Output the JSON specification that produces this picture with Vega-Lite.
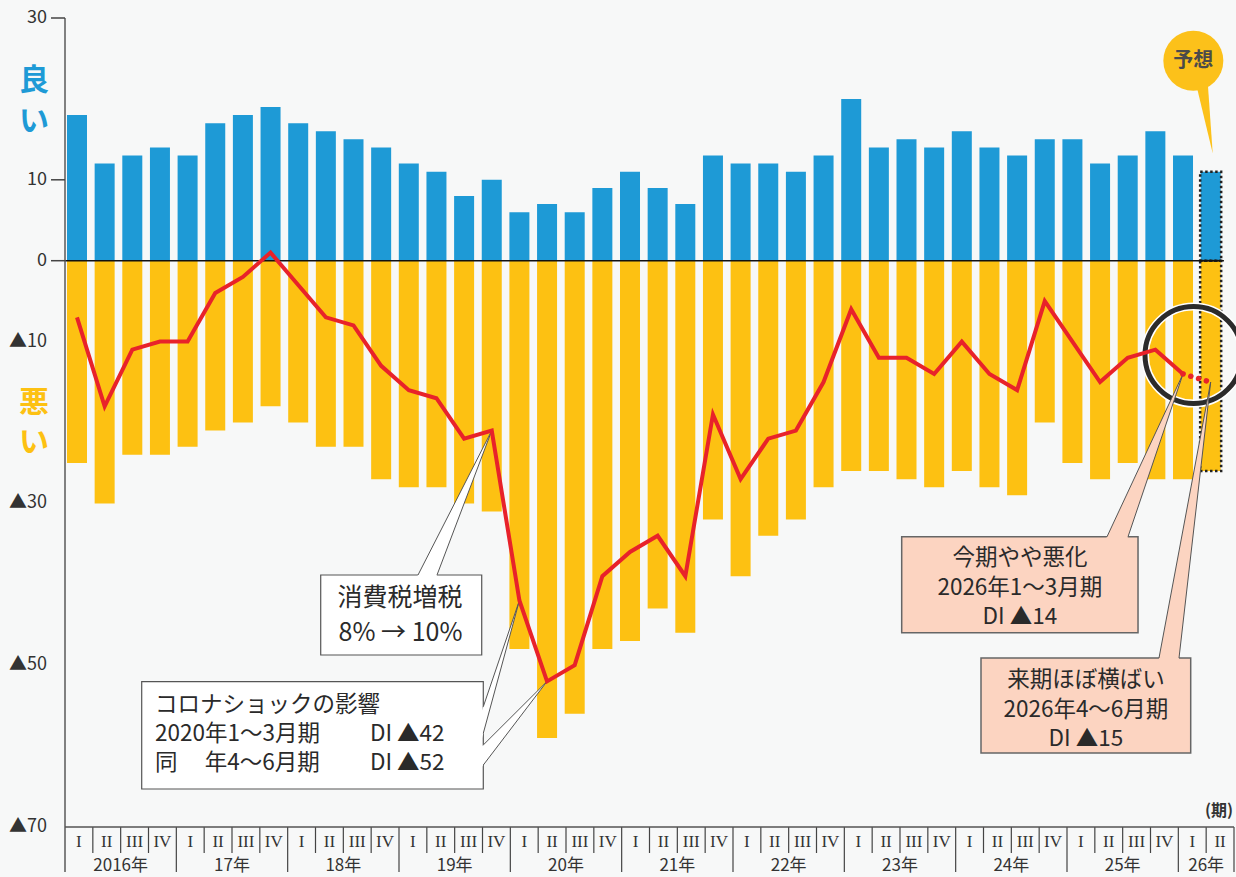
{
 "$schema": "https://vega.github.io/schema/vega-lite/v6.json",
 "width": 1169,
 "height": 859,
 "autosize": {"type": "none"},
 "padding": {"left": 65, "top": 18, "right": 2, "bottom": 0},
 "background": "#f7f8f8",
 "config": {"view": {"stroke": null}},
 "datasets": {
  "q": [
   {"q":0,"good":18,"bad":-25,"di":-7,"qr":"I"},
   {"q":1,"good":12,"bad":-30,"di":-18,"qr":"II"},
   {"q":2,"good":13,"bad":-24,"di":-11,"qr":"III"},
   {"q":3,"good":14,"bad":-24,"di":-10,"qr":"IV"},
   {"q":4,"good":13,"bad":-23,"di":-10,"qr":"I"},
   {"q":5,"good":17,"bad":-21,"di":-4,"qr":"II"},
   {"q":6,"good":18,"bad":-20,"di":-2,"qr":"III"},
   {"q":7,"good":19,"bad":-18,"di":1,"qr":"IV"},
   {"q":8,"good":17,"bad":-20,"di":-3,"qr":"I"},
   {"q":9,"good":16,"bad":-23,"di":-7,"qr":"II"},
   {"q":10,"good":15,"bad":-23,"di":-8,"qr":"III"},
   {"q":11,"good":14,"bad":-27,"di":-13,"qr":"IV"},
   {"q":12,"good":12,"bad":-28,"di":-16,"qr":"I"},
   {"q":13,"good":11,"bad":-28,"di":-17,"qr":"II"},
   {"q":14,"good":8,"bad":-30,"di":-22,"qr":"III"},
   {"q":15,"good":10,"bad":-31,"di":-21,"qr":"IV"},
   {"q":16,"good":6,"bad":-48,"di":-42,"qr":"I"},
   {"q":17,"good":7,"bad":-59,"di":-52,"qr":"II"},
   {"q":18,"good":6,"bad":-56,"di":-50,"qr":"III"},
   {"q":19,"good":9,"bad":-48,"di":-39,"qr":"IV"},
   {"q":20,"good":11,"bad":-47,"di":-36,"qr":"I"},
   {"q":21,"good":9,"bad":-43,"di":-34,"qr":"II"},
   {"q":22,"good":7,"bad":-46,"di":-39,"qr":"III"},
   {"q":23,"good":13,"bad":-32,"di":-19,"qr":"IV"},
   {"q":24,"good":12,"bad":-39,"di":-27,"qr":"I"},
   {"q":25,"good":12,"bad":-34,"di":-22,"qr":"II"},
   {"q":26,"good":11,"bad":-32,"di":-21,"qr":"III"},
   {"q":27,"good":13,"bad":-28,"di":-15,"qr":"IV"},
   {"q":28,"good":20,"bad":-26,"di":-6,"qr":"I"},
   {"q":29,"good":14,"bad":-26,"di":-12,"qr":"II"},
   {"q":30,"good":15,"bad":-27,"di":-12,"qr":"III"},
   {"q":31,"good":14,"bad":-28,"di":-14,"qr":"IV"},
   {"q":32,"good":16,"bad":-26,"di":-10,"qr":"I"},
   {"q":33,"good":14,"bad":-28,"di":-14,"qr":"II"},
   {"q":34,"good":13,"bad":-29,"di":-16,"qr":"III"},
   {"q":35,"good":15,"bad":-20,"di":-5,"qr":"IV"},
   {"q":36,"good":15,"bad":-25,"di":-10,"qr":"I"},
   {"q":37,"good":12,"bad":-27,"di":-15,"qr":"II"},
   {"q":38,"good":13,"bad":-25,"di":-12,"qr":"III"},
   {"q":39,"good":16,"bad":-27,"di":-11,"qr":"IV"},
   {"q":40,"good":13,"bad":-27,"di":-14,"qr":"I"},
   {"q":41,"good":11,"bad":-26,"di":-15,"qr":"II"}
  ],
  "years": [
   {"q":2,"label":"2016年"},{"q":6,"label":"17年"},{"q":10,"label":"18年"},{"q":14,"label":"19年"},
   {"q":18,"label":"20年"},{"q":22,"label":"21年"},{"q":26,"label":"22年"},{"q":30,"label":"23年"},
   {"q":34,"label":"24年"},{"q":38,"label":"25年"},{"q":41,"label":"26年"}
  ],
  "ticks": [{"v":30},{"v":10},{"v":0}],
  "ylab": [
   {"v":30,"t":"30"},{"v":10,"t":"10"},{"v":0,"t":"0"},
   {"v":-10,"t":"▲10"},{"v":-30,"t":"▲30"},{"v":-50,"t":"▲50"},{"v":-70,"t":"▲70"}
  ],
  "side": [
   {"t":"良","y":22.21,"s":"good"},{"t":"い","y":17.14,"s":"good"},
   {"t":"悪","y":-17.59,"s":"bad"},{"t":"い","y":-22.53,"s":"bad"}
  ],
  "boxes": [
   {"id":"b1","x":8.814,"x2":14.637,"y":-38.85,"y2":-48.74},
   {"id":"b2","x":2.340,"x2":14.694,"y":-52.04,"y2":-65.30},
   {"id":"b3","x":29.826,"x2":38.373,"y":-34.12,"y2":-45.98},
   {"id":"b4","x":32.694,"x2":40.278,"y":-49.11,"y2":-60.85}
  ],
  "wedges": [
   {"g":"w1","x":12.260,"y":-39.34,"y2":-39.34},
   {"g":"w1","x":12.966,"y":-34.64,"y2":-39.34},
   {"g":"w1","x":15,"y":-21,"y2":-21},
   {"g":"w2a","x":14.575,"y":-56.33,"y2":-59.91},
   {"g":"w2a","x":16,"y":-42,"y2":-42},
   {"g":"w2b","x":14.575,"y":-60.27,"y2":-62.87},
   {"g":"w2b","x":17,"y":-52,"y2":-52},
   {"g":"p3","x":37.196,"y":-34.52,"y2":-34.52},
   {"g":"p3","x":37.970,"y":-28.86,"y2":-34.52},
   {"g":"p3","x":40,"y":-14,"y2":-14},
   {"g":"p4","x":39.112,"y":-49.48,"y2":-49.48},
   {"g":"p4","x":39.843,"y":-36.13,"y2":-49.48},
   {"g":"p4","x":41,"y":-15,"y2":-15},
   {"g":"tail","x":40.420,"y":22.58,"y2":22.58},
   {"g":"tail","x":40.882,"y":22.58,"y2":16.0},
   {"g":"tail","x":41.074,"y":13.28,"y2":13.28}
  ],
  "edges": [
   {"x":12.333,"y":-38.85,"x2":15,"y2":-21},
   {"x":13.02,"y":-38.85,"x2":15,"y2":-21},
   {"x":14.694,"y":-55.13,"x2":16,"y2":-42},
   {"x":14.694,"y":-58.42,"x2":16,"y2":-42},
   {"x":14.694,"y":-59.86,"x2":17,"y2":-52},
   {"x":14.694,"y":-62.34,"x2":17,"y2":-52},
   {"x":37.251,"y":-34.12,"x2":40,"y2":-14},
   {"x":38.011,"y":-34.12,"x2":40,"y2":-14},
   {"x":39.132,"y":-49.11,"x2":41,"y2":-15},
   {"x":39.855,"y":-49.11,"x2":41,"y2":-15}
  ],
  "t1": [
   {"t":"消費税増税","x":11.68,"y":-41.69},
   {"t":"8% → 10%","x":11.7,"y":-46.02}
  ],
  "tc": [
   {"t":"今期やや悪化","x":34.10,"y":-36.75},
   {"t":"2026年1～3月期","x":34.10,"y":-40.46},
   {"t":"DI ▲14","x":34.10,"y":-44.04},
   {"t":"来期ほぼ横ばい","x":36.488,"y":-51.83},
   {"t":"2026年4～6月期","x":36.488,"y":-55.54},
   {"t":"DI ▲15","x":36.488,"y":-59.12}
  ],
  "tl": [
   {"t":"コロナショックの影響","x":2.821,"y":-54.92},
   {"t":"2020年1～3月期","x":2.821,"y":-58.50},
   {"t":"同","x":2.821,"y":-62.09},
   {"t":"年4～6月期","x":4.62,"y":-62.09},
   {"t":"DI ▲42","x":10.597,"y":-58.50},
   {"t":"DI ▲52","x":10.597,"y":-62.09}
  ]
 },
 "resolve": {"scale": {"x": "independent"}},
 "layer": [
  {
   "data": {"name": "q"},
   "mark": {"type": "bar", "width": 20, "color": "#1e9ad6"},
   "encoding": {
    "x": {"field": "q", "type": "quantitative", "scale": {"domain": [-0.434, 41.844], "nice": false, "zero": false, "padding": 0}, "axis": null},
    "y": {"field": "good", "type": "quantitative", "scale": {"domain": [-76.18, 30], "nice": false, "zero": false}, "axis": null},
    "y2": {"datum": 0}
   }
  },
  {
   "data": {"name": "q"},
   "mark": {"type": "bar", "width": 20, "color": "#fdc112"},
   "encoding": {
    "x": {"field": "q", "type": "quantitative", "scale": {"domain": [-0.434, 41.844], "nice": false, "zero": false, "padding": 0}, "axis": null},
    "y": {"field": "bad", "type": "quantitative", "scale": {"domain": [-76.18, 30], "nice": false, "zero": false}, "axis": null},
    "y2": {"datum": 0}
   }
  },
  {
   "data": {"name": "q"},
   "transform": [{"filter": "datum.q == 41"}],
   "mark": {"type": "bar", "width": 21, "filled": false, "stroke": "#222", "strokeWidth": 2.5, "strokeDash": [2.5, 2.5]},
   "encoding": {
    "x": {"field": "q", "type": "quantitative", "scale": {"domain": [-0.434, 41.844], "nice": false, "zero": false, "padding": 0}, "axis": null},
    "y": {"field": "good", "type": "quantitative", "axis": null},
    "y2": {"datum": 0}
   }
  },
  {
   "data": {"name": "q"},
   "transform": [{"filter": "datum.q == 41"}],
   "mark": {"type": "bar", "width": 21, "filled": false, "stroke": "#222", "strokeWidth": 2.5, "strokeDash": [2.5, 2.5]},
   "encoding": {
    "x": {"field": "q", "type": "quantitative", "scale": {"domain": [-0.434, 41.844], "nice": false, "zero": false, "padding": 0}, "axis": null},
    "y": {"field": "bad", "type": "quantitative", "axis": null},
    "y2": {"datum": 0}
   }
  },
  {
   "data": {"values": [{}]},
   "mark": {"type": "rule", "color": "#111", "strokeWidth": 1.5},
   "encoding": {
    "x": {"datum": -0.434, "type": "quantitative", "scale": {"domain": [-0.434, 41.844], "nice": false, "zero": false, "padding": 0}, "axis": null},
    "x2": {"datum": 41.48},
    "y": {"datum": 0, "type": "quantitative", "axis": null}
   }
  },
  {
   "data": {"values": [{}]},
   "mark": {"type": "rule", "color": "#5a5a5a", "strokeWidth": 1.5},
   "encoding": {
    "x": {"datum": -0.434, "type": "quantitative", "scale": {"domain": [-0.434, 41.844], "nice": false, "zero": false, "padding": 0}, "axis": null},
    "y": {"datum": 30, "type": "quantitative", "axis": null},
    "y2": {"datum": -75.56}
   }
  },
  {
   "data": {"name": "ticks"},
   "mark": {"type": "rule", "color": "#444", "strokeWidth": 1.5},
   "encoding": {
    "x": {"datum": -0.94, "type": "quantitative", "scale": {"domain": [-0.434, 41.844], "nice": false, "zero": false, "padding": 0}, "axis": null},
    "x2": {"datum": -0.434},
    "y": {"field": "v", "type": "quantitative", "axis": null}
   }
  },
  {
   "data": {"name": "ylab"},
   "mark": {"type": "text", "font": "Noto Sans CJK JP", "fontSize": 18, "color": "#333", "baseline": "middle", "align": "right"},
   "encoding": {
    "x": {"datum": -1.085, "type": "quantitative", "scale": {"domain": [-0.434, 41.844], "nice": false, "zero": false, "padding": 0}, "axis": null},
    "y": {"field": "v", "type": "quantitative", "axis": null},
    "text": {"field": "t"}
   }
  },
  {
   "data": {"values": [{}]},
   "mark": {"type": "point", "shape": "circle", "size": 9409, "filled": false, "stroke": "#ffffff", "strokeWidth": 8, "opacity": 1},
   "encoding": {
    "x": {"datum": 40.38, "type": "quantitative", "scale": {"domain": [-0.434, 41.844], "nice": false, "zero": false, "padding": 0}, "axis": null},
    "y": {"datum": -11.66, "type": "quantitative", "axis": null}
   }
  },
  {
   "data": {"values": [{}]},
   "mark": {"type": "point", "shape": "circle", "size": 9409, "filled": false, "stroke": "#2b2b2b", "strokeWidth": 5, "opacity": 1},
   "encoding": {
    "x": {"datum": 40.38, "type": "quantitative", "scale": {"domain": [-0.434, 41.844], "nice": false, "zero": false, "padding": 0}, "axis": null},
    "y": {"datum": -11.66, "type": "quantitative", "axis": null}
   }
  },
  {
   "data": {"name": "boxes"},
   "transform": [{"filter": {"field": "id", "oneOf": ["b1", "b2"]}}],
   "mark": {"type": "rect", "fill": "#ffffff", "stroke": "#555", "strokeWidth": 1.2},
   "encoding": {
    "x": {"field": "x", "type": "quantitative", "scale": {"domain": [-0.434, 41.844], "nice": false, "zero": false, "padding": 0}, "axis": null}, "x2": {"field": "x2"},
    "y": {"field": "y", "type": "quantitative", "axis": null}, "y2": {"field": "y2"}
   }
  },
  {
   "data": {"name": "boxes"},
   "transform": [{"filter": {"field": "id", "oneOf": ["b3", "b4"]}}],
   "mark": {"type": "rect", "fill": "#fcd4c1", "stroke": "#666", "strokeWidth": 1.5},
   "encoding": {
    "x": {"field": "x", "type": "quantitative", "scale": {"domain": [-0.434, 41.844], "nice": false, "zero": false, "padding": 0}, "axis": null}, "x2": {"field": "x2"},
    "y": {"field": "y", "type": "quantitative", "axis": null}, "y2": {"field": "y2"}
   }
  },
  {
   "data": {"name": "wedges"},
   "transform": [{"filter": {"field": "g", "oneOf": ["w1", "w2a", "w2b"]}}],
   "mark": {"type": "area", "orient": "vertical", "fill": "#ffffff", "opacity": 1},
   "encoding": {
    "x": {"field": "x", "type": "quantitative", "scale": {"domain": [-0.434, 41.844], "nice": false, "zero": false, "padding": 0}, "axis": null},
    "y": {"field": "y", "type": "quantitative", "stack": null, "axis": null},
    "y2": {"field": "y2"},
    "detail": {"field": "g"}
   }
  },
  {
   "data": {"name": "wedges"},
   "transform": [{"filter": {"field": "g", "oneOf": ["p3", "p4"]}}],
   "mark": {"type": "area", "orient": "vertical", "fill": "#fcd4c1", "opacity": 1},
   "encoding": {
    "x": {"field": "x", "type": "quantitative", "scale": {"domain": [-0.434, 41.844], "nice": false, "zero": false, "padding": 0}, "axis": null},
    "y": {"field": "y", "type": "quantitative", "stack": null, "axis": null},
    "y2": {"field": "y2"},
    "detail": {"field": "g"}
   }
  },
  {
   "data": {"name": "wedges"},
   "transform": [{"filter": {"field": "g", "oneOf": ["tail"]}}],
   "mark": {"type": "area", "orient": "vertical", "fill": "#fcc11a", "opacity": 1},
   "encoding": {
    "x": {"field": "x", "type": "quantitative", "scale": {"domain": [-0.434, 41.844], "nice": false, "zero": false, "padding": 0}, "axis": null},
    "y": {"field": "y", "type": "quantitative", "stack": null, "axis": null},
    "y2": {"field": "y2"},
    "detail": {"field": "g"}
   }
  },
  {
   "data": {"name": "edges"},
   "mark": {"type": "rule", "color": "#555", "strokeWidth": 1},
   "encoding": {
    "x": {"field": "x", "type": "quantitative", "scale": {"domain": [-0.434, 41.844], "nice": false, "zero": false, "padding": 0}, "axis": null}, "x2": {"field": "x2"},
    "y": {"field": "y", "type": "quantitative", "axis": null}, "y2": {"field": "y2"}
   }
  },
  {
   "data": {"name": "q"},
   "transform": [{"filter": "datum.q <= 40"}],
   "mark": {"type": "line", "color": "#e8222a", "strokeWidth": 4},
   "encoding": {
    "x": {"field": "q", "type": "quantitative", "scale": {"domain": [-0.434, 41.844], "nice": false, "zero": false, "padding": 0}, "axis": null},
    "y": {"field": "di", "type": "quantitative", "axis": null}
   }
  },
  {
   "data": {"name": "q"},
   "transform": [{"filter": "datum.q >= 40"}],
   "mark": {"type": "line", "color": "#e8222a", "strokeWidth": 5.5, "strokeDash": [0.1, 8], "strokeCap": "round"},
   "encoding": {
    "x": {"field": "q", "type": "quantitative", "scale": {"domain": [-0.434, 41.844], "nice": false, "zero": false, "padding": 0}, "axis": null},
    "y": {"field": "di", "type": "quantitative", "axis": null}
   }
  },
  {
   "data": {"values": [{}]},
   "mark": {"type": "point", "shape": "circle", "size": 3600, "filled": true, "color": "#fcc11a", "opacity": 1, "strokeWidth": 0},
   "encoding": {
    "x": {"datum": 40.373, "type": "quantitative", "scale": {"domain": [-0.434, 41.844], "nice": false, "zero": false, "padding": 0}, "axis": null},
    "y": {"datum": 24.72, "type": "quantitative", "axis": null}
   }
  },
  {
   "data": {"values": [{}]},
   "mark": {"type": "text", "text": "予想", "font": "Noto Sans CJK JP", "fontWeight": "bold", "fontSize": 20, "color": "#4a4a4a", "baseline": "middle", "align": "center"},
   "encoding": {
    "x": {"datum": 40.373, "type": "quantitative", "scale": {"domain": [-0.434, 41.844], "nice": false, "zero": false, "padding": 0}, "axis": null},
    "y": {"datum": 24.72, "type": "quantitative", "axis": null}
   }
  },
  {
   "data": {"name": "t1"},
   "mark": {"type": "text", "font": "Noto Sans CJK JP", "fontSize": 25, "color": "#2a2a2a", "baseline": "middle", "align": "center"},
   "encoding": {
    "x": {"field": "x", "type": "quantitative", "scale": {"domain": [-0.434, 41.844], "nice": false, "zero": false, "padding": 0}, "axis": null},
    "y": {"field": "y", "type": "quantitative", "axis": null}, "text": {"field": "t"}
   }
  },
  {
   "data": {"name": "tc"},
   "mark": {"type": "text", "font": "Noto Sans CJK JP", "fontSize": 22.5, "color": "#2a2a2a", "baseline": "middle", "align": "center"},
   "encoding": {
    "x": {"field": "x", "type": "quantitative", "scale": {"domain": [-0.434, 41.844], "nice": false, "zero": false, "padding": 0}, "axis": null},
    "y": {"field": "y", "type": "quantitative", "axis": null}, "text": {"field": "t"}
   }
  },
  {
   "data": {"name": "tl"},
   "mark": {"type": "text", "font": "Noto Sans CJK JP", "fontSize": 22.5, "color": "#2a2a2a", "baseline": "middle", "align": "left"},
   "encoding": {
    "x": {"field": "x", "type": "quantitative", "scale": {"domain": [-0.434, 41.844], "nice": false, "zero": false, "padding": 0}, "axis": null},
    "y": {"field": "y", "type": "quantitative", "axis": null}, "text": {"field": "t"}
   }
  },
  {
   "data": {"name": "side"},
   "transform": [{"filter": "datum.s == 'good'"}],
   "mark": {"type": "text", "font": "Noto Sans CJK JP", "fontWeight": "bold", "fontSize": 30, "color": "#1e9ad6", "baseline": "middle", "align": "center"},
   "encoding": {
    "x": {"datum": -1.555, "type": "quantitative", "scale": {"domain": [-0.434, 41.844], "nice": false, "zero": false, "padding": 0}, "axis": null},
    "y": {"field": "y", "type": "quantitative", "axis": null},
    "text": {"field": "t"}
   }
  },
  {
   "data": {"name": "side"},
   "transform": [{"filter": "datum.s == 'bad'"}],
   "mark": {"type": "text", "font": "Noto Sans CJK JP", "fontWeight": "bold", "fontSize": 30, "color": "#fdc112", "baseline": "middle", "align": "center"},
   "encoding": {
    "x": {"datum": -1.555, "type": "quantitative", "scale": {"domain": [-0.434, 41.844], "nice": false, "zero": false, "padding": 0}, "axis": null},
    "y": {"field": "y", "type": "quantitative", "axis": null},
    "text": {"field": "t"}
   }
  },
  {
   "data": {"name": "q"},
   "mark": {"type": "text", "font": "Liberation Serif", "fontSize": 17, "color": "#333", "baseline": "middle", "align": "center"},
   "encoding": {
    "x": {"field": "q", "type": "ordinal", "scale": {"type": "band", "domain": [0,1,2,3,4,5,6,7,8,9,10,11,12,13,14,15,16,17,18,19,20,21,22,23,24,25,26,27,28,29,30,31,32,33,34,35,36,37,38,39,40,41], "paddingInner": 0, "paddingOuter": 0}, "axis": null, "bandPosition": 0.5},
    "y": {"datum": -71.85, "type": "quantitative", "axis": null},
    "text": {"field": "qr"}
   }
  },
  {
   "data": {"name": "q"},
   "transform": [{"filter": "datum.qr != 'I'"}],
   "mark": {"type": "rule", "color": "#444", "strokeWidth": 1.2},
   "encoding": {
    "x": {"field": "q", "type": "ordinal", "scale": {"type": "band", "domain": [0,1,2,3,4,5,6,7,8,9,10,11,12,13,14,15,16,17,18,19,20,21,22,23,24,25,26,27,28,29,30,31,32,33,34,35,36,37,38,39,40,41], "paddingInner": 0, "paddingOuter": 0}, "axis": null, "bandPosition": 0},
    "y": {"datum": -70, "type": "quantitative", "axis": null},
    "y2": {"datum": -73.21}
   }
  },
  {
   "data": {"name": "q"},
   "transform": [{"filter": "datum.qr == 'I' && datum.q > 0"}],
   "mark": {"type": "rule", "color": "#444", "strokeWidth": 1.2},
   "encoding": {
    "x": {"field": "q", "type": "ordinal", "scale": {"type": "band", "domain": [0,1,2,3,4,5,6,7,8,9,10,11,12,13,14,15,16,17,18,19,20,21,22,23,24,25,26,27,28,29,30,31,32,33,34,35,36,37,38,39,40,41], "paddingInner": 0, "paddingOuter": 0}, "axis": null, "bandPosition": 0},
    "y": {"datum": -70, "type": "quantitative", "axis": null},
    "y2": {"datum": -75.56}
   }
  },
  {
   "data": {"name": "q"},
   "transform": [{"filter": "datum.q == 41"}],
   "mark": {"type": "rule", "color": "#444", "strokeWidth": 1.2},
   "encoding": {
    "x": {"field": "q", "type": "ordinal", "scale": {"type": "band", "domain": [0,1,2,3,4,5,6,7,8,9,10,11,12,13,14,15,16,17,18,19,20,21,22,23,24,25,26,27,28,29,30,31,32,33,34,35,36,37,38,39,40,41], "paddingInner": 0, "paddingOuter": 0}, "axis": null, "bandPosition": 1},
    "y": {"datum": -70, "type": "quantitative", "axis": null},
    "y2": {"datum": -75.56}
   }
  },
  {
   "data": {"values": [{}]},
   "mark": {"type": "rule", "color": "#555", "strokeWidth": 1.5},
   "encoding": {"y": {"datum": -70, "type": "quantitative", "axis": null}}
  },
  {
   "data": {"name": "years"},
   "mark": {"type": "text", "font": "Noto Sans CJK JP", "fontSize": 17, "color": "#333", "baseline": "middle", "align": "center"},
   "encoding": {
    "x": {"field": "q", "type": "ordinal", "scale": {"type": "band", "domain": [0,1,2,3,4,5,6,7,8,9,10,11,12,13,14,15,16,17,18,19,20,21,22,23,24,25,26,27,28,29,30,31,32,33,34,35,36,37,38,39,40,41], "paddingInner": 0, "paddingOuter": 0}, "axis": null, "bandPosition": 0},
    "y": {"datum": -74.8, "type": "quantitative", "axis": null},
    "text": {"field": "label"}
   }
  },
  {
   "data": {"name": "q"},
   "transform": [{"filter": "datum.q == 41"}],
   "mark": {"type": "text", "text": "(期)", "font": "Noto Sans CJK JP", "fontWeight": "bold", "fontSize": 16, "color": "#333", "baseline": "middle", "align": "right", "dx": -1},
   "encoding": {
    "x": {"field": "q", "type": "ordinal", "scale": {"type": "band", "domain": [0,1,2,3,4,5,6,7,8,9,10,11,12,13,14,15,16,17,18,19,20,21,22,23,24,25,26,27,28,29,30,31,32,33,34,35,36,37,38,39,40,41], "paddingInner": 0, "paddingOuter": 0}, "axis": null, "bandPosition": 1},
    "y": {"datum": -68.02, "type": "quantitative", "axis": null}
   }
  }
 ]
}
